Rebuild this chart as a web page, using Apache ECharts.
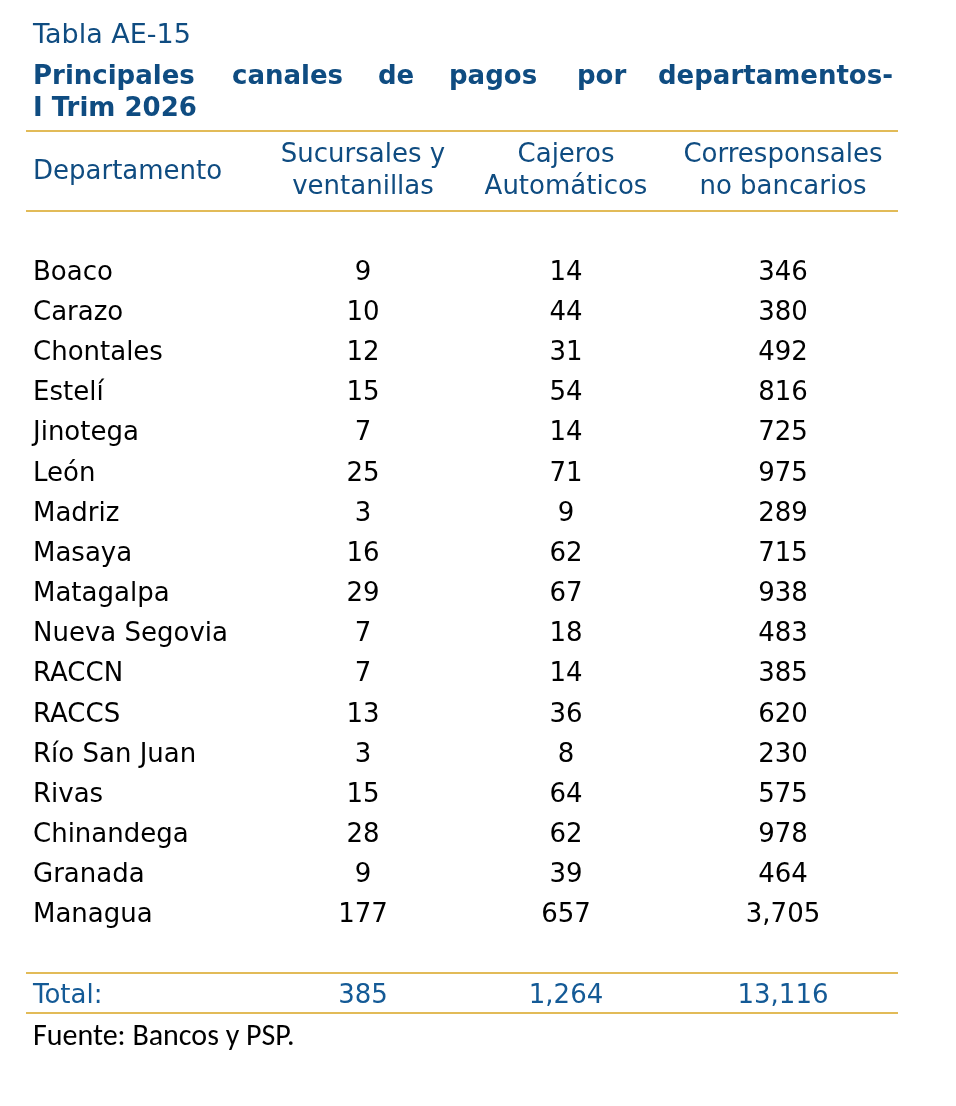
<!DOCTYPE html>
<html>
<head>
<meta charset="utf-8">
<script src="https://cdn.jsdelivr.net/npm/echarts@6/dist/echarts.min.js"></script>
<style>
  html, body { margin: 0; padding: 0; background: #fff; }
  #tabla { width: 956px; height: 1106px; }
</style>
</head>
<body>
<div id="tabla"></div>
<script>
(function () {
    /****************datos de la tabla******************/
    var departamentos = ['Boaco', 'Carazo', 'Chontales', 'Estelí', 'Jinotega', 'León', 'Madriz',
        'Masaya', 'Matagalpa', 'Nueva Segovia', 'RACCN', 'RACCS', 'Río San Juan', 'Rivas',
        'Chinandega', 'Granada', 'Managua'];
    var columnas = ['Sucursales y\nventanillas', 'Cajeros\nAutomáticos', 'Corresponsales\nno bancarios'];
    var sucursales = [9, 10, 12, 15, 7, 25, 3, 16, 29, 7, 7, 13, 3, 15, 28, 9, 177];
    var cajeros = [14, 44, 31, 54, 14, 71, 9, 62, 67, 18, 14, 36, 8, 64, 62, 39, 657];
    var corresponsales = [346, 380, 492, 816, 725, 975, 289, 715, 938, 483, 385, 620, 230, 575, 978, 464, 3705];
    var totales = [385, 1264, 13116];
    var etiquetaTotal = 'Total:';

    var dom = document.getElementById('tabla');
    var chart = echarts.init(dom);

    var AZUL = '#0f4c81';
    var AZUL_TOTAL = '#145a96';
    var DORADO = '#d9a521';
    var FUENTE = "'DejaVu Sans', Verdana, sans-serif";
    var columnasDatos = [sucursales, cajeros, corresponsales];
    // pequeño ajuste horizontal por columna (la columna central no está equidistante)
    var ajusteCol = [0, -7, 0];

    function miles(v) {
        return String(v).replace(/\B(?=(\d{3})+(?!\d))/g, ',');
    }

    // filas del eje: departamentos + fila vacía + total
    var filasEje = departamentos.concat([' ']);
    filasEje.push({ value: etiquetaTotal, textStyle: { color: AZUL_TOTAL, align: 'left' } });

    var series = [];
    for (var c = 0; c < columnasDatos.length; c++) {
        var datos = [];
        for (var i = 0; i < departamentos.length; i++) {
            datos.push([c, departamentos[i], columnasDatos[c][i]]);
        }
        datos.push({ value: [c, etiquetaTotal, totales[c]], label: { color: AZUL_TOTAL } });
        series.push({
            type: 'scatter',
            symbolSize: 1,
            itemStyle: { color: 'rgba(0,0,0,0)', opacity: 1 },
            silent: true,
            label: {
                show: true,
                position: 'inside',
                offset: [ajusteCol[c], 0],
                color: '#000',
                opacity: 1,
                fontSize: 26,
                fontFamily: FUENTE,
                formatter: function (p) { return miles(p.value[2]); }
            },
            data: datos
        });
    }

    var palabrasTitulo = [
        { t: 'Principales', x: 33 },
        { t: 'canales', x: 232 },
        { t: 'de', x: 378 },
        { t: 'pagos', x: 449 },
        { t: 'por', x: 577 },
        { t: 'departamentos-', x: 893, align: 'right' }
    ];
    var graficos = [
        { type: 'text', x: 33, y: 36, style: { text: 'Tabla AE-15', fill: AZUL, font: '27px ' + FUENTE, verticalAlign: 'middle' } }
    ];
    palabrasTitulo.forEach(function (w) {
        graficos.push({
            type: 'text', x: w.x, y: 77,
            style: { text: w.t, fill: AZUL, font: 'bold 26px ' + FUENTE, align: w.align || 'left', verticalAlign: 'middle' }
        });
    });
    graficos.push({
        type: 'text', x: 33, y: 109,
        style: { text: 'I Trim 2026', fill: AZUL, font: 'bold 26px ' + FUENTE, verticalAlign: 'middle' }
    });
    graficos.push({
        type: 'text', x: 33, y: 172,
        style: { text: 'Departamento', fill: AZUL, font: '26px ' + FUENTE, verticalAlign: 'middle' }
    });
    graficos.push({
        type: 'text', x: 33, y: 1037,
        style: { text: 'Fuente: Bancos y PSP.', fill: '#000', font: "30px Carlito, Lato, sans-serif", verticalAlign: 'middle' }
    });
    [131, 211, 973, 1013].forEach(function (y) {
        graficos.push({
            type: 'line',
            shape: { x1: 26, y1: y, x2: 898, y2: y },
            style: { stroke: DORADO, lineWidth: 1.5 }
        });
    });

    var option = {
        backgroundColor: '#fff',
        animation: false,
        grid: { left: 258, right: 68, top: 253, bottom: 90, outerBoundsMode: 'none', containLabel: false },
        xAxis: {
            type: 'category',
            position: 'top',
            data: columnas.map(function (col, k) {
                return k === 1 ? {
                    value: col,
                    textStyle: { padding: [0, 14, 0, 0], verticalAlign: 'middle', lineHeight: 32, align: 'center' }
                } : col;
            }),
            axisLine: { show: false },
            axisTick: { show: false },
            splitLine: { show: false },
            axisLabel: {
                interval: 0,
                margin: 82,
                verticalAlign: 'middle',
                lineHeight: 32,
                color: AZUL,
                fontSize: 26,
                fontFamily: FUENTE
            }
        },
        yAxis: {
            type: 'category',
            inverse: true,
            data: filasEje,
            axisLine: { show: false },
            axisTick: { show: false },
            splitLine: { show: false },
            axisLabel: {
                interval: 0,
                align: 'left',
                margin: 225,
                color: '#000',
                fontSize: 26,
                fontFamily: FUENTE
            }
        },
        graphic: graficos,
        series: series
    };
    chart.setOption(option, true);
})();
</script>
</body>
</html>
